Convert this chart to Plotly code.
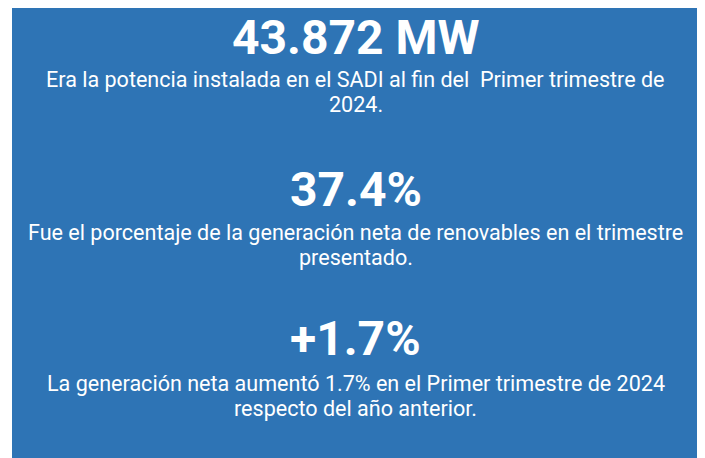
import plotly.graph_objects as go

# Data
headlines = ["43.872 MW", "37.4%", "+1.7%"]
descriptions = [
    ["Era la potencia instalada en el SADI al fin del\u00a0 Primer trimestre de", "2024."],
    ["Fue el porcentaje de la generación neta de renovables en el trimestre", "presentado."],
    ["La generación neta aumentó 1.7% en el Primer trimestre de 2024", "respecto del año anterior."],
]

W, H = 705, 458
PAGE_OFFSET = 8          # default body margin of the html page
BLUE = "#2E74B5"
HEAD_SIZE = 48
DESC_SIZE = 21.55

# text baselines (window pixels)
head_base = [54, 206, 355]
desc_base = [[87.3, 112.3], [239.5, 264.4], [390.5, 415.4]]

def py(screen_y):
    fig_y = screen_y - PAGE_OFFSET
    return 1 - fig_y / H

fig = go.Figure()
annotations = []
for i, h in enumerate(headlines):
    annotations.append(dict(
        text=f"<b>{h}</b>", x=0.5, y=py(head_base[i] - 0.34 * HEAD_SIZE),
        xref="paper", yref="paper", xanchor="center", yanchor="middle", showarrow=False,
        font=dict(family="Roboto", size=HEAD_SIZE, color="white"),
    ))
    for j, line in enumerate(descriptions[i]):
        annotations.append(dict(
            text=line, x=0.5, y=py(desc_base[i][j] - 0.34 * DESC_SIZE),
            xref="paper", yref="paper", xanchor="center", yanchor="middle", showarrow=False,
            font=dict(family="Roboto", size=DESC_SIZE, color="white"),
        ))

fig.update_layout(
    width=W, height=H,
    margin=dict(l=12 - PAGE_OFFSET, r=W - (699 - PAGE_OFFSET), t=0, b=0, pad=0),
    paper_bgcolor="white", plot_bgcolor=BLUE,
    xaxis=dict(visible=False, range=[0, 1], fixedrange=True),
    yaxis=dict(visible=False, range=[0, 1], fixedrange=True),
    annotations=annotations, showlegend=False,
)
fig.write_html("out.html", config=dict(displayModeBar=False))
